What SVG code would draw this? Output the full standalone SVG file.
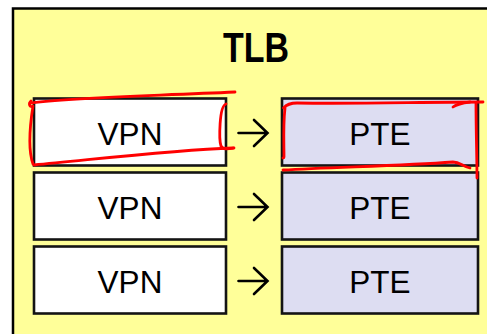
<svg xmlns="http://www.w3.org/2000/svg" width="487" height="334" viewBox="0 0 487 334">
<style>
  .cont { fill: #FFFF99; stroke: #000; stroke-width: 2.5; }
  .vpn { fill: #FFFFFF; stroke: #141414; stroke-width: 2.6; }
  .pte { fill: #DDDDF2; stroke: #141414; stroke-width: 2.6; }
  .lbl { font-family: "Liberation Sans", Arial, sans-serif; font-size: 31.5px; fill: #000; text-anchor: middle; }
  .title { font-family: "Liberation Sans", Arial, sans-serif; font-size: 42px; font-weight: bold; fill: #000; text-anchor: middle; }
  .arr { fill: none; stroke: #000; stroke-width: 2.6; stroke-linecap: round; stroke-linejoin: miter; }
  .ink { fill: none; stroke: #FF0000; stroke-width: 2.8; stroke-linecap: round; stroke-linejoin: round; }
</style>
<rect x="0" y="0" width="487" height="334" fill="#FFFFFF"/>
<g id="tlb">
  <rect class="cont" x="13" y="8.5" width="500" height="400"/>
  <text class="title" x="256" y="62" textLength="66" lengthAdjust="spacingAndGlyphs">TLB</text>
</g>
<g id="vpn1"><rect class="vpn" x="34" y="98.5" width="192" height="67"/><text class="lbl" x="130" y="144.5">VPN</text></g>
<g id="vpn2"><rect class="vpn" x="34" y="172.5" width="192" height="67"/><text class="lbl" x="130" y="218.5">VPN</text></g>
<g id="vpn3"><rect class="vpn" x="34" y="246.5" width="192" height="67"/><text class="lbl" x="130" y="293">VPN</text></g>
<g id="pte1"><rect class="pte" x="282" y="98.5" width="196" height="67"/><text class="lbl" x="380" y="144.5">PTE</text></g>
<g id="pte2"><rect class="pte" x="282" y="172.5" width="196" height="67"/><text class="lbl" x="380" y="218.5">PTE</text></g>
<g id="pte3"><rect class="pte" x="282" y="246.5" width="196" height="67"/><text class="lbl" x="380" y="293">PTE</text></g>
<g id="connectors">
  <path class="arr" d="M238.5 133 H267 M254 120 L267.5 133 L254 146"/>
  <path class="arr" d="M238.5 207 H267 M254 194 L267.5 207 L254 220"/>
  <path class="arr" d="M238.5 281 H267 M254 268 L267.5 281 L254 294"/>
</g>
<g id="annotations">
  <path class="ink" d="M30 103 C 70 97, 150 96, 235 92"/>
  <path class="ink" d="M31 101 C 28 104, 30 108, 33 106 C 30 125, 28 150, 33 164"/>
  <path class="ink" d="M34 165 C 90 160, 170 150, 233 148"/>
  <path class="ink" d="M226 104 C 219 106, 219 140, 221 146 C 223 150, 228 149, 234 148"/>
  <path class="ink" d="M283.5 108 C 287 104, 292 103, 297 103 C 360 104, 420 102, 483 102"/>
  <path class="ink" d="M470 102 C 462 103, 457 104, 453 107"/>
  <path class="ink" d="M285 108 C 283 125, 284 145, 284 157 C 284 158, 283 158, 283 158"/>
  <path class="ink" d="M283 170 C 330 167, 400 166, 453 162 C 460 162, 462 166, 470 168"/>
  <path class="ink" d="M476 103 C 476 130, 477 160, 477 178"/>
</g>
</svg>
